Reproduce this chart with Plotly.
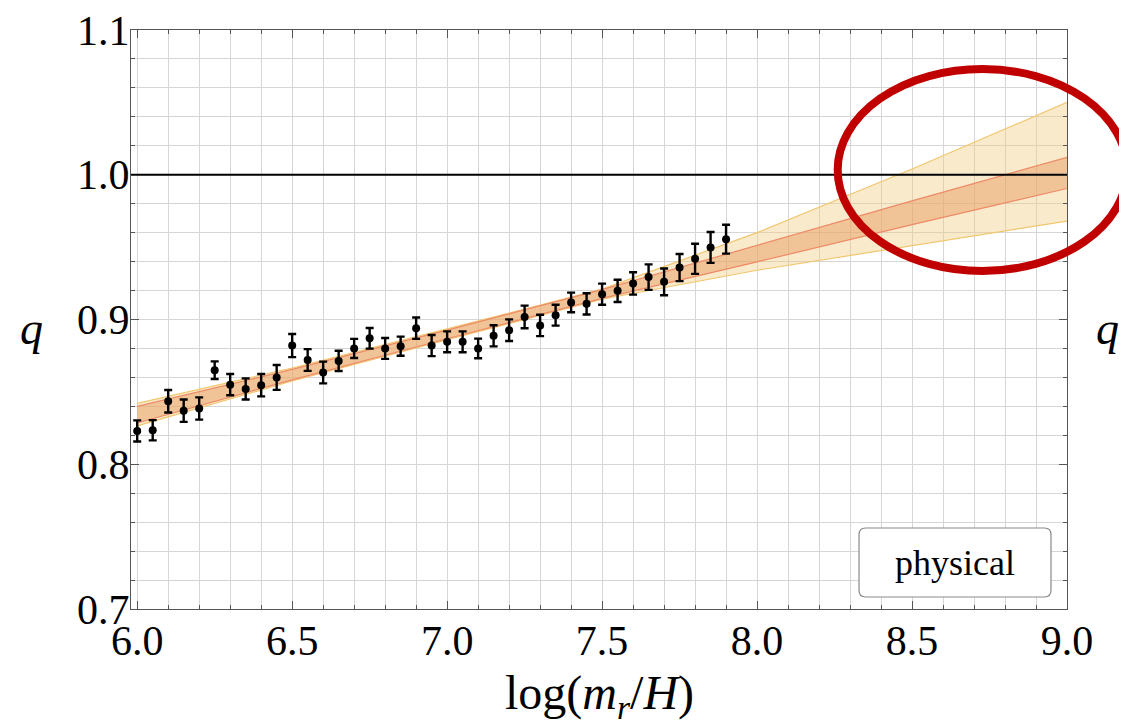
import plotly.graph_objects as go

# ---- data ----
x_pts = [6.00, 6.05, 6.10, 6.15, 6.20, 6.25, 6.30, 6.35, 6.40, 6.45,
         6.50, 6.55, 6.60, 6.65, 6.70, 6.75, 6.80, 6.85, 6.90, 6.95,
         7.00, 7.05, 7.10, 7.15, 7.20, 7.25, 7.30, 7.35, 7.40, 7.45,
         7.50, 7.55, 7.60, 7.65, 7.70, 7.75, 7.80, 7.85, 7.90]
q_pts = [0.823, 0.8235, 0.8435, 0.837, 0.8385, 0.865, 0.855, 0.852, 0.8546, 0.860,
         0.882, 0.872, 0.8634, 0.8714, 0.880, 0.887, 0.880, 0.8816, 0.894, 0.882,
         0.8846, 0.8846, 0.880, 0.8887, 0.8926, 0.9018, 0.8959, 0.903, 0.9118, 0.9108,
         0.9175, 0.9198, 0.9249, 0.9293, 0.926, 0.9359, 0.9419, 0.9498, 0.9555]
q_err = [0.0073, 0.007, 0.0078, 0.0077, 0.0077, 0.0061, 0.0073, 0.0073, 0.0077, 0.0086,
         0.008, 0.0075, 0.0075, 0.007, 0.0066, 0.0071, 0.0072, 0.0066, 0.0074, 0.0073,
         0.0072, 0.0072, 0.0068, 0.0073, 0.0075, 0.0078, 0.0074, 0.0072, 0.0068, 0.0073,
         0.0073, 0.0077, 0.0077, 0.0088, 0.0092, 0.0094, 0.0104, 0.0107, 0.010]

band_x = [6.0, 6.5, 7.0, 7.5, 8.0, 8.5, 9.0]
inner_hi = [0.840, 0.8655, 0.8927, 0.9206, 0.9512, 0.982, 1.012]
inner_lo = [0.8285, 0.8583, 0.8867, 0.9146, 0.9398, 0.9655, 0.9905]
outer_hi = [0.842, 0.8665, 0.8935, 0.921, 0.960, 1.004, 1.050]
outer_lo = [0.8265, 0.8575, 0.886, 0.914, 0.934, 0.951, 0.968]

x_ticks = [6.0, 6.5, 7.0, 7.5, 8.0, 8.5, 9.0]
x_tick_text = ["6.0", "6.5", "7.0", "7.5", "8.0", "8.5", "9.0"]
y_ticks = [0.7, 0.8, 0.9, 1.0, 1.1]
y_tick_text = ["0.7", "0.8", "0.9", "1.0", "1.1"]

FONT = "Liberation Serif, Times New Roman, serif"

fig = go.Figure()

# outer band
fig.add_trace(go.Scatter(x=band_x, y=outer_lo, mode="lines",
                         line=dict(color="#F2C66E", width=1.2), showlegend=False, hoverinfo="skip"))
fig.add_trace(go.Scatter(x=band_x, y=outer_hi, mode="lines", fill="tonexty",
                         fillcolor="rgba(238,204,130,0.42)",
                         line=dict(color="#F2C66E", width=1.2), showlegend=False, hoverinfo="skip"))
# inner band
fig.add_trace(go.Scatter(x=band_x, y=inner_lo, mode="lines",
                         line=dict(color="#EE8A66", width=1.2), showlegend=False, hoverinfo="skip"))
fig.add_trace(go.Scatter(x=band_x, y=inner_hi, mode="lines", fill="tonexty",
                         fillcolor="rgba(232,150,90,0.45)",
                         line=dict(color="#EE8A66", width=1.2), showlegend=False, hoverinfo="skip"))

# data points with error bars
fig.add_trace(go.Scatter(x=x_pts, y=q_pts, mode="markers",
                         marker=dict(color="black", size=8),
                         error_y=dict(type="data", array=q_err, visible=True,
                                      color="black", thickness=2.4, width=4),
                         showlegend=False))

# reference line q = 1
fig.add_shape(type="line", x0=5.98, x1=9.0, y0=1.0, y1=1.0, xref="x", yref="y",
              line=dict(color="black", width=2), layer="above")

# legend box with rounded corners (paper coords)
bx0, bx1, by0, by1 = 0.7778, 0.9829, 0.0207, 0.1399
rx, ry = 0.0070, 0.0115
path = (f"M {bx0+rx},{by0} L {bx1-rx},{by0} Q {bx1},{by0} {bx1},{by0+ry} "
        f"L {bx1},{by1-ry} Q {bx1},{by1} {bx1-rx},{by1} "
        f"L {bx0+rx},{by1} Q {bx0},{by1} {bx0},{by1-ry} "
        f"L {bx0},{by0+ry} Q {bx0},{by0} {bx0+rx},{by0} Z")
fig.add_shape(type="path", path=path, xref="paper", yref="paper",
              fillcolor="white", line=dict(color="#8a8a8a", width=1.2), layer="above")
fig.add_annotation(x=(bx0 + bx1) / 2, y=(by0 + by1) / 2, xref="paper", yref="paper",
                   xanchor="center", yanchor="middle",
                   text="physical", showarrow=False,
                   font=dict(family=FONT, size=36, color="black"))

# red ellipse highlight
fig.add_shape(type="circle", xref="paper", yref="paper",
              x0=0.755, x1=1.0641, y0=0.5838, y1=0.9327,
              line=dict(color="#C00000", width=8), layer="above")

# axis labels
fig.add_annotation(x=0.5, y=-0.150, xref="paper", yref="paper",
                   xanchor="center", yanchor="middle",
                   text="log(<i>m</i><sub><i>r</i></sub>/<i>H</i>)", showarrow=False,
                   font=dict(family=FONT, size=48, color="black"))
fig.add_annotation(x=-0.106, y=0.485, xref="paper", yref="paper",
                   xanchor="center", yanchor="middle",
                   text="<i>q</i>", showarrow=False,
                   font=dict(family=FONT, size=46, color="black"))
fig.add_annotation(x=1.043, y=0.485, xref="paper", yref="paper",
                   xanchor="center", yanchor="middle",
                   text="<i>q</i>", showarrow=False,
                   font=dict(family=FONT, size=46, color="black"))

axis_common = dict(showline=True, linecolor="#555555", linewidth=1, mirror="ticks",
                   ticks="inside", ticklen=8, tickcolor="#555555", automargin=False,
                   ticklabeloverflow="allow",
                   showgrid=True, gridcolor="#d6d6d6", gridwidth=1, zeroline=False,
                   tickfont=dict(family=FONT, size=42, color="black"))

fig.update_xaxes(range=[5.98, 9.0], tickvals=x_ticks, ticktext=x_tick_text,
                 minor=dict(dtick=0.1, tick0=6.0, ticks="inside", ticklen=4,
                            tickcolor="#555555", showgrid=True, gridcolor="#d6d6d6"),
                 ticklabelstandoff=-5, **axis_common)
fig.update_yaxes(range=[0.7, 1.1], tickvals=y_ticks, ticktext=y_tick_text,
                 minor=dict(dtick=0.02, tick0=0.7, ticks="inside", ticklen=4,
                            tickcolor="#555555", showgrid=True, gridcolor="#d6d6d6"),
                 ticklabelstandoff=-8, **axis_common)

fig.update_layout(width=1127, height=725,
                  margin=dict(l=123, r=68, t=22, b=124),
                  paper_bgcolor="white", plot_bgcolor="white",
                  font=dict(family=FONT))

fig.write_html("out.html")
